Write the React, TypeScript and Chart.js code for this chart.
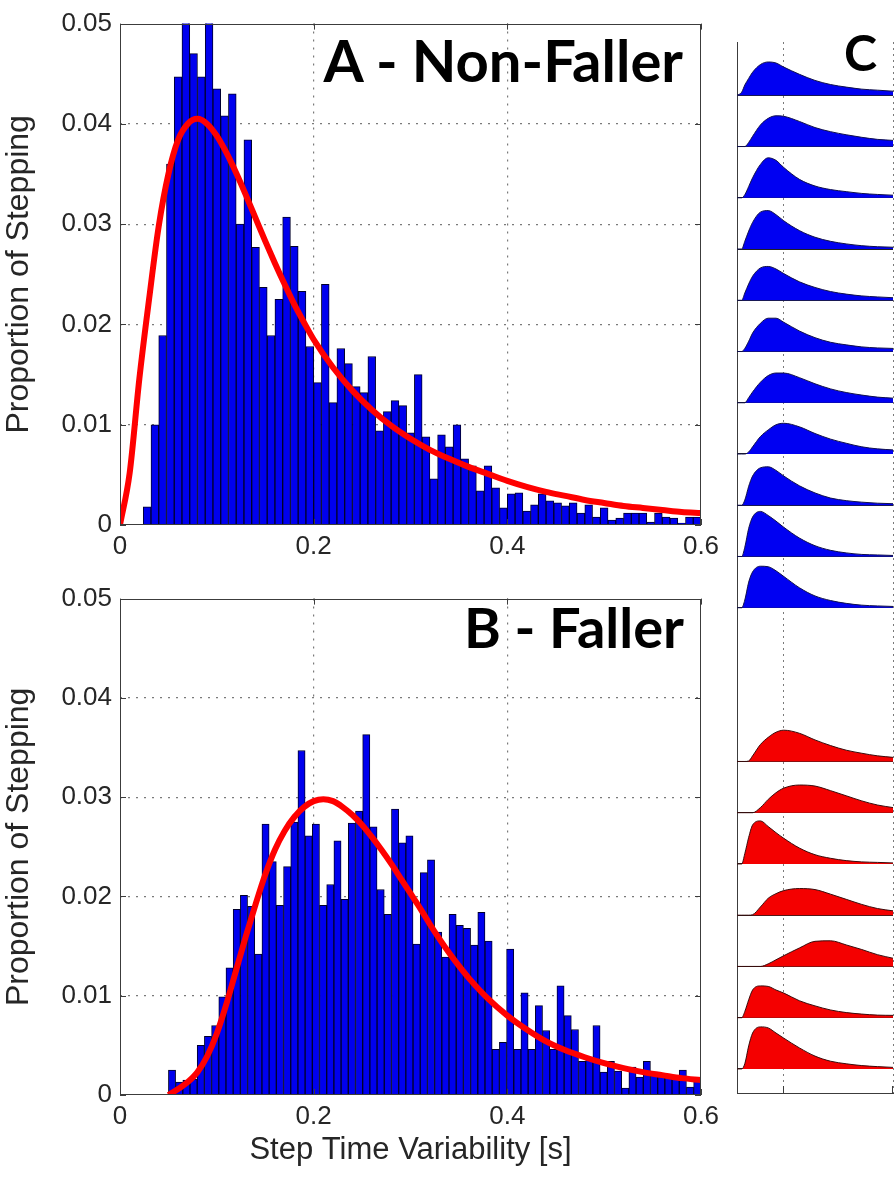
import React, { useEffect, useRef } from "react";
import { Chart, registerables } from "chart.js";

Chart.register(...registerables);

// ---------------- data ----------------
const X_TICKS = [0, 0.2, 0.4, 0.6];
const X_TICK_LABELS = ["0", "0.2", "0.4", "0.6"];
const Y_TICKS = [0, 0.01, 0.02, 0.03, 0.04, 0.05];
const Y_TICK_LABELS = ["0", "0.01", "0.02", "0.03", "0.04", "0.05"];

// Panel A (Non-Faller) histogram
const A_BIN_START = 0.024;
const A_BIN_WIDTH = 0.008;
const A_BARS = [
  0.0018, 0.0100, 0.0189, 0.0360, 0.0447, 0.0520, 0.0470, 0.0447, 0.0520, 0.0435,
  0.0408, 0.0430, 0.0300, 0.0384, 0.0277, 0.0237, 0.0189, 0.0225, 0.0307, 0.0278,
  0.0233, 0.0178, 0.0142, 0.0240, 0.0122, 0.0176, 0.0161, 0.0138, 0.0132, 0.0168,
  0.0094, 0.0113, 0.0124, 0.0119, 0.0092, 0.0150, 0.0088, 0.0046, 0.0090, 0.0078,
  0.0100, 0.0066, 0.0059, 0.0034, 0.0059, 0.0037, 0.0017, 0.0031, 0.0032, 0.0014,
  0.0020, 0.0031, 0.0024, 0.0022, 0.0019, 0.0022, 0.0012, 0.0020, 0.0008, 0.0017,
  0.0005, 0.0007, 0.0012, 0.0012, 0.0012, 0.0003, 0.0012, 0.0008, 0.0007, 0.0002,
  0.0008, 0.0008,
];
const A_FIT_X = [
  0, 0.01, 0.02, 0.03, 0.04, 0.05, 0.06, 0.07, 0.08, 0.09, 0.1, 0.11, 0.12, 0.13, 0.14,
  0.15, 0.16, 0.17, 0.18, 0.19, 0.2, 0.22, 0.24, 0.26, 0.28, 0.3, 0.32, 0.34, 0.36, 0.38,
  0.4, 0.42, 0.44, 0.46, 0.48, 0.5, 0.52, 0.54, 0.56, 0.58, 0.6,
];
const A_FIT_Y = [
  0, 0.0052, 0.0146, 0.0225, 0.0298, 0.0350, 0.0384, 0.0400, 0.0405, 0.0400, 0.0388, 0.0371,
  0.0351, 0.0329, 0.0306, 0.0283, 0.0261, 0.0240, 0.0220, 0.0202, 0.0185, 0.0157, 0.0134,
  0.0115, 0.0099, 0.0086, 0.0075, 0.0066, 0.0058, 0.0051, 0.0044, 0.0038, 0.0033, 0.0029,
  0.0025, 0.0022, 0.0019, 0.0017, 0.0015, 0.0013, 0.0012,
];

// Panel B (Faller) histogram
const B_BIN_START = 0.05;
const B_BIN_WIDTH = 0.00743;
const B_BARS = [
  0.0025, 0.0013, 0.0015, 0.0016, 0.0050, 0.0059, 0.0070, 0.0099, 0.0128, 0.0187,
  0.0201, 0.0190, 0.0142, 0.0273, 0.0235, 0.0191, 0.0230, 0.0275, 0.0347, 0.0261,
  0.0273, 0.0191, 0.0212, 0.0256, 0.0197, 0.0274, 0.0286, 0.0363, 0.0270, 0.0207,
  0.0182, 0.0288, 0.0254, 0.0261, 0.0152, 0.0224, 0.0237, 0.0164, 0.0139, 0.0182,
  0.0171, 0.0168, 0.0151, 0.0184, 0.0155, 0.0046, 0.0053, 0.0147, 0.0046, 0.0103,
  0.0046, 0.0090, 0.0065, 0.0046, 0.0110, 0.0080, 0.0066, 0.0034, 0.0037, 0.0070,
  0.0023, 0.0034, 0.0024, 0.0007, 0.0028, 0.0018, 0.0034, 0.0023, 0.0021, 0.0018,
  0.0018, 0.0025, 0.0008, 0.0015,
];
const B_FIT_X = [
  0.05, 0.06, 0.07, 0.08, 0.09, 0.1, 0.11, 0.12, 0.13, 0.14, 0.15, 0.16, 0.17, 0.18, 0.19,
  0.2, 0.21, 0.22, 0.23, 0.24, 0.25, 0.26, 0.27, 0.28, 0.29, 0.3, 0.31, 0.32, 0.33, 0.34,
  0.35, 0.36, 0.38, 0.4, 0.42, 0.44, 0.46, 0.48, 0.5, 0.52, 0.54, 0.56, 0.58, 0.6,
];
const B_FIT_Y = [
  0.0000, 0.0006, 0.0013, 0.0023, 0.0039, 0.0062, 0.0092, 0.0126, 0.0160, 0.0192, 0.0222,
  0.0247, 0.0266, 0.0280, 0.0290, 0.0296, 0.0298, 0.0296, 0.0290, 0.0282, 0.0272, 0.0260,
  0.0247, 0.0233, 0.0218, 0.0203, 0.0188, 0.0172, 0.0157, 0.0143, 0.0130, 0.0118, 0.0097,
  0.0080, 0.0066, 0.0054, 0.0045, 0.0038, 0.0032, 0.0027, 0.0023, 0.0020, 0.0017, 0.0015,
];

// Panel C: per-subject density curves (height as fraction of a row)
const C_U = [0, 0.03, 0.05, 0.075, 0.1, 0.15, 0.2, 0.25, 0.3, 0.4, 0.5, 0.6, 0.7, 0.8, 0.9, 1.0];
const C_BLUE = [
  [0, 0.06, 0.2, 0.33, 0.45, 0.6, 0.65, 0.63, 0.55, 0.41, 0.29, 0.21, 0.16, 0.12, 0.1, 0.08],
  [0, 0, 0, 0.08, 0.2, 0.42, 0.55, 0.6, 0.59, 0.49, 0.37, 0.29, 0.23, 0.18, 0.14, 0.12],
  [0, 0, 0.06, 0.22, 0.39, 0.65, 0.78, 0.73, 0.59, 0.36, 0.23, 0.16, 0.12, 0.085, 0.065, 0.05],
  [0, 0, 0.15, 0.35, 0.52, 0.72, 0.75, 0.67, 0.55, 0.36, 0.23, 0.15, 0.1, 0.065, 0.045, 0.035],
  [0, 0, 0.14, 0.32, 0.47, 0.63, 0.66, 0.61, 0.52, 0.36, 0.25, 0.17, 0.12, 0.085, 0.065, 0.05],
  [0, 0, 0.06, 0.2, 0.36, 0.55, 0.65, 0.65, 0.57, 0.4, 0.27, 0.18, 0.13, 0.09, 0.07, 0.06],
  [0, 0, 0, 0.1, 0.21, 0.4, 0.53, 0.58, 0.58, 0.49, 0.37, 0.27, 0.2, 0.15, 0.11, 0.09],
  [0, 0, 0, 0.04, 0.14, 0.34, 0.47, 0.57, 0.6, 0.53, 0.4, 0.29, 0.21, 0.14, 0.1, 0.08],
  [0, 0, 0.1, 0.37, 0.57, 0.73, 0.75, 0.68, 0.57, 0.38, 0.24, 0.14, 0.09, 0.06, 0.04, 0.03],
  [0, 0, 0.18, 0.55, 0.77, 0.88, 0.8, 0.69, 0.57, 0.36, 0.21, 0.12, 0.07, 0.04, 0.03, 0.02],
  [0, 0, 0.15, 0.5, 0.7, 0.81, 0.8, 0.72, 0.61, 0.39, 0.23, 0.14, 0.085, 0.05, 0.035, 0.025],
];
const C_RED = [
  [0, 0, 0, 0.01, 0.11, 0.33, 0.47, 0.57, 0.61, 0.55, 0.42, 0.31, 0.22, 0.16, 0.11, 0.08],
  [0, 0, 0, 0, 0, 0.1, 0.26, 0.39, 0.48, 0.54, 0.52, 0.43, 0.33, 0.23, 0.15, 0.1],
  [0, 0, 0.2, 0.52, 0.76, 0.84, 0.73, 0.61, 0.5, 0.31, 0.18, 0.11, 0.065, 0.04, 0.03, 0.02],
  [0, 0, 0, 0, 0.01, 0.16, 0.33, 0.42, 0.48, 0.52, 0.5, 0.41, 0.31, 0.21, 0.13, 0.085],
  [0, 0, 0, 0, 0, 0, 0.05, 0.13, 0.21, 0.36, 0.49, 0.5, 0.42, 0.33, 0.23, 0.16],
  [0, 0, 0.12, 0.35, 0.54, 0.62, 0.61, 0.54, 0.48, 0.33, 0.23, 0.15, 0.1, 0.07, 0.05, 0.045],
  [0, 0, 0.1, 0.45, 0.7, 0.82, 0.8, 0.7, 0.6, 0.41, 0.25, 0.15, 0.1, 0.065, 0.045, 0.03],
];
const C_BLUE_SLOTS = [20, 19, 18, 17, 16, 15, 14, 13, 12, 11, 10];
const C_RED_SLOTS = [7, 6, 5, 4, 3, 2, 1];
const C_X_TICKS = [0.3, 1];

// ---------------- styles ----------------
const AXIS_COLOR = "#3c3c3c";
const GRID_COLOR = "#7a7a7a";
const TEXT_COLOR = "#262626";
const BAR_FILL = "#0000ee";
const BAR_EDGE = "#00002a";
const FIT_COLOR = "#ff0000";
const TICK_FONT = { family: "'Liberation Sans', Arial, sans-serif", size: 26 };
const Y_TITLE_FONT = { family: "'Liberation Sans', Arial, sans-serif", size: 32 };
const X_TITLE_FONT = { family: "'Liberation Sans', Arial, sans-serif", size: 31 };

const framePlugin = {
  id: "frame",
  afterDatasetsDraw(chart: any, _args: any, opts: any) {
    if (!opts || !opts.enabled) return;
    const { ctx, chartArea } = chart;
    const { left, top, right, bottom } = chartArea;
    const t = opts.tick || 6;
    ctx.save();
    ctx.strokeStyle = opts.color;
    ctx.lineWidth = 1;
    ctx.strokeRect(Math.round(left) + 0.5, Math.round(top) + 0.5, Math.round(right - left) - 1, Math.round(bottom - top) - 1);
    ctx.beginPath();
    for (const v of X_TICKS) {
      const x = Math.round(chart.scales.x.getPixelForValue(v)) + 0.5;
      ctx.moveTo(x, bottom);
      ctx.lineTo(x, bottom - t);
      ctx.moveTo(x, top);
      ctx.lineTo(x, top + t);
    }
    for (const v of Y_TICKS) {
      const y = Math.round(chart.scales.y.getPixelForValue(v)) + 0.5;
      ctx.moveTo(left, y);
      ctx.lineTo(left + t, y);
      ctx.moveTo(right, y);
      ctx.lineTo(right - t, y);
    }
    ctx.stroke();
    ctx.restore();
  },
};

const cTickPlugin = {
  id: "cticks",
  afterDraw(chart: any) {
    const { ctx, chartArea } = chart;
    ctx.save();
    ctx.strokeStyle = AXIS_COLOR;
    ctx.lineWidth = 1;
    ctx.beginPath();
    for (const v of C_X_TICKS) {
      const x = Math.round(chart.scales.x.getPixelForValue(v)) - 0.5;
      ctx.moveTo(x, chartArea.bottom);
      ctx.lineTo(x, chartArea.bottom - 7);
    }
    ctx.stroke();
    ctx.restore();
  },
};

function histConfig(
  bars: number[],
  binStart: number,
  binWidth: number,
  fitX: number[],
  fitY: number[],
  padTop: number,
  xAxisHeight: number,
  showXTitle: boolean
): any {
  const centers = bars.map((_, i) => binStart + binWidth * (i + 0.5));
  return {
    type: "bar",
    data: {
      datasets: [
        {
          type: "line",
          data: fitX.map((x, i) => ({ x, y: fitY[i] })),
          borderColor: FIT_COLOR,
          borderWidth: 6,
          pointRadius: 0,
          cubicInterpolationMode: "monotone",
          fill: false,
          order: 0,
        },
        {
          type: "bar",
          data: bars.map((v, i) => ({ x: centers[i], y: v })),
          backgroundColor: BAR_FILL,
          borderColor: BAR_EDGE,
          borderWidth: 1,
          barPercentage: 1,
          categoryPercentage: 1,
          order: 1,
        },
      ],
    },
    options: {
      responsive: false,
      animation: false,
      layout: { padding: { top: padTop, right: 29, left: 0, bottom: 0 } },
      plugins: {
        legend: { display: false },
        tooltip: { enabled: false },
        frame: { enabled: true, color: AXIS_COLOR, tick: 6 },
      },
      scales: {
        x: {
          type: "linear",
          min: 0,
          max: 0.6,
          offset: false,
          afterBuildTicks: (s: any) => {
            s.ticks = X_TICKS.map((v) => ({ value: v }));
          },
          afterFit: (s: any) => {
            s.height = xAxisHeight;
          },
          ticks: {
            color: TEXT_COLOR,
            font: TICK_FONT,
            padding: 6,
            maxRotation: 0,
            autoSkip: false,
            callback: (_v: any, i: number) => X_TICK_LABELS[i],
          },
          grid: {
            offset: false,
            drawTicks: false,
            color: (c: any) =>
              c.tick && (c.tick.value === 0 || c.tick.value === 0.6) ? "rgba(0,0,0,0)" : GRID_COLOR,
            lineWidth: 1.2,
          },
          border: { display: false, dash: [2, 6] },
          title: {
            display: showXTitle,
            text: "Step Time Variability [s]",
            color: TEXT_COLOR,
            font: X_TITLE_FONT,
            padding: { top: 0, bottom: 8 },
          },
        },
        y: {
          type: "linear",
          min: 0,
          max: 0.05,
          afterBuildTicks: (s: any) => {
            s.ticks = Y_TICKS.map((v) => ({ value: v }));
          },
          afterFit: (s: any) => {
            s.width = 120;
          },
          ticks: {
            color: TEXT_COLOR,
            font: TICK_FONT,
            padding: 8,
            callback: (_v: any, i: number) => Y_TICK_LABELS[i],
          },
          grid: {
            drawTicks: false,
            color: (c: any) =>
              c.tick && (c.tick.value === 0 || c.tick.value === 0.05) ? "rgba(0,0,0,0)" : GRID_COLOR,
            lineWidth: 1.2,
          },
          border: { display: false, dash: [2, 6] },
          title: {
            display: true,
            text: "Proportion of Stepping",
            color: TEXT_COLOR,
            font: Y_TITLE_FONT,
            padding: { top: 0, bottom: 0 },
          },
        },
      },
    },
    plugins: [framePlugin],
  };
}

function cConfig(): any {
  const datasets: any[] = [];
  C_BLUE.forEach((row, r) => {
    const base = C_BLUE_SLOTS[r];
    datasets.push({
      type: "line",
      data: C_U.map((u, i) => ({ x: u, y: base + row[i] })),
      fill: { value: base },
      backgroundColor: "#0000f2",
      borderColor: "#10104a",
      borderWidth: 1,
      pointRadius: 0,
      cubicInterpolationMode: "monotone",
    });
  });
  C_RED.forEach((row, r) => {
    const base = C_RED_SLOTS[r];
    datasets.push({
      type: "line",
      data: C_U.map((u, i) => ({ x: u, y: base + row[i] })),
      fill: { value: base },
      backgroundColor: "#f40000",
      borderColor: "#3a0a0a",
      borderWidth: 1,
      pointRadius: 0,
      cubicInterpolationMode: "monotone",
    });
  });
  const baselines = [...C_BLUE_SLOTS, ...C_RED_SLOTS];
  return {
    type: "line",
    data: { datasets },
    options: {
      responsive: false,
      animation: false,
      layout: { padding: { top: 12, right: 3, left: 12, bottom: 12 } },
      plugins: { legend: { display: false }, tooltip: { enabled: false } },
      scales: {
        x: {
          type: "linear",
          min: 0,
          max: 1,
          afterBuildTicks: (s: any) => {
            s.ticks = C_X_TICKS.map((v) => ({ value: v }));
          },
          afterFit: (s: any) => {
            s.height = 0;
          },
          ticks: { display: false },
          grid: { drawTicks: false, color: GRID_COLOR, lineWidth: 1 },
          border: { display: true, color: AXIS_COLOR, width: 1, dash: [2, 4] },
        },
        y: {
          type: "linear",
          min: 0.53,
          max: 21.04,
          z: 1,
          afterBuildTicks: (s: any) => {
            s.ticks = baselines.map((v) => ({ value: v }));
          },
          afterFit: (s: any) => {
            s.width = 0;
          },
          ticks: { display: false },
          grid: { drawTicks: false, color: "#202020", lineWidth: 1 },
          border: { display: true, color: AXIS_COLOR, width: 1 },
        },
      },
    },
    plugins: [cTickPlugin],
  };
}

function ChartCanvas({ config, left, top, width, height }: any) {
  const ref = useRef<HTMLCanvasElement | null>(null);
  useEffect(() => {
    if (!ref.current) return;
    const chart = new Chart(ref.current, config());
    return () => chart.destroy();
  }, []);
  return (
    <canvas
      ref={ref}
      width={width}
      height={height}
      style={{ position: "absolute", left, top, width, height }}
    />
  );
}

const letterStyle: any = {
  position: "absolute",
  fontFamily: "Lato, 'Open Sans', sans-serif",
  fontWeight: 700,
  fontSize: 58,
  lineHeight: "58px",
  color: "#000",
  whiteSpace: "nowrap",
};

export default function App() {
  return (
    <div style={{ position: "absolute", left: 0, top: 0, width: 896, height: 1177, background: "#fff", overflow: "hidden" }}>
      <ChartCanvas
        config={() => histConfig(A_BARS, A_BIN_START, A_BIN_WIDTH, A_FIT_X, A_FIT_Y, 17, 50, false)}
        left={0}
        top={0}
        width={730}
        height={575}
      />
      <ChartCanvas
        config={() => histConfig(B_BARS, B_BIN_START, B_BIN_WIDTH, B_FIT_X, B_FIT_Y, 10, 82, true)}
        left={0}
        top={575}
        width={730}
        height={602}
      />
      <ChartCanvas config={cConfig} left={725} top={30} width={171} height={1075} />
      <div style={{ ...letterStyle, right: 213, top: 31 }}>A - Non-Faller</div>
      <div style={{ ...letterStyle, right: 212, top: 598, fontSize: 56 }}>B - Faller</div>
      <div style={{ ...letterStyle, right: 19, top: 27, fontSize: 50, lineHeight: "50px" }}>C</div>
    </div>
  );
}
